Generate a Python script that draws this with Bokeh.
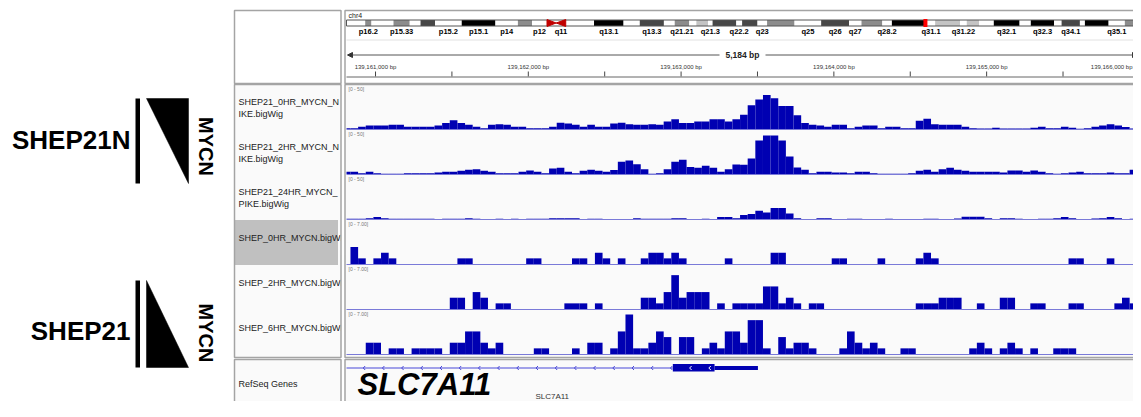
import numpy as np
from bokeh.plotting import figure
from bokeh.models import Range1d, Arrow, NormalHead
from bokeh.core.properties import value
from bokeh.embed import file_html
from bokeh.resources import INLINE

# ============================ data ============================
chrom = "chr4"
view_start = 139160810
view_end = 139165994

# 50-bp bins; bin k covers [bin_origin + 50k, bin_origin + 50(k+1))
bin_origin = 139160836
bin_size = 50
first_bin = -1

shep21_0hr_nspike = [1, 1, 3, 4.5, 4.5, 4.5, 5.4, 5.4, 3, 3,
                     3, 3, 4.5, 7.5, 11, 7.5, 5.4, 3, 1, 5.4,
                     6, 5.4, 3, 3, 1, 1, 1, 3, 8, 7,
                     5.4, 3, 5.4, 3, 3, 7, 8, 6, 5.4, 5.4,
                     6, 5.4, 9.5, 12.5, 7.5, 7.5, 9.5, 9.5, 12.5, 12.5,
                     9.5, 12.5, 18, 30, 37.5, 43, 39, 29, 29, 17.5,
                     7.5, 5.4, 4.5, 3, 5.4, 5.4, 1, 3, 4.5, 4.5,
                     1, 3, 3, 1, 1, 10.4, 13, 6, 5.4, 5.4,
                     5.4, 3, 1, 0.5, 0.5, 1.5, 0.5, 0.5, 0.5, 0.5,
                     1.5, 3, 1, 1, 3, 1.5, 0.3, 1, 3, 4.5,
                     6, 4.5, 2.5, 0.5]
shep21_2hr_nspike = [3, 3, 1, 3, 1, 0.4, 0.4, 0.4, 1, 1,
                     1, 1, 2, 3, 3, 4, 5.4, 6, 4, 3,
                     1, 1, 1, 3, 4.5, 3, 0.8, 7, 8, 3,
                     1, 4, 5.4, 4, 3, 5, 15.4, 17, 12.5, 6,
                     0.4, 1, 6, 15.4, 18, 9, 8, 10.4, 8, 3,
                     6, 12, 11.7, 19.6, 42.5, 48.7, 48.7, 42.5, 22, 8.3,
                     5.4, 1, 3, 3, 2, 2, 1, 3, 3, 1,
                     0.4, 0.2, 0.2, 0.2, 1, 4, 5.4, 3, 6, 8,
                     5.4, 4, 3, 3, 3, 3, 2, 4.5, 4.5, 3,
                     4.5, 3, 1, 0.4, 1, 2, 3, 1, 1, 1,
                     2, 1, 1, 5.4]
shep21_24hr_nspike = [0.3, 0.3, 0.3, 1, 2.5, 1, 0.2, 0.2, 0.2, 0.2,
                      0.2, 0.4, 0.1, 0.4, 0.4, 0.4, 1, 0.4, 0.1, 0.1,
                      0.4, 0.1, 0.4, 0.1, 0.4, 0.4, 0.4, 1, 1, 1,
                      1, 0.1, 0.4, 0.4, 0.1, 0.1, 0.1, 0.1, 1, 0.4,
                      0.4, 0.4, 0.4, 1, 1, 0.1, 0.1, 0.4, 0.1, 2.5,
                      2.5, 1, 5, 6.25, 10.4, 8.3, 14, 14, 7, 1,
                      0.1, 0.1, 1, 1, 0.1, 0.1, 0.4, 0.4, 0.1, 0.1,
                      0.1, 0.4, 0.1, 0.1, 0.1, 0.1, 0.4, 0.4, 0.1, 0.1,
                      0.7, 3, 3, 3, 1, 0.1, 1, 1, 0.4, 0.1,
                      0.1, 0.4, 0.4, 1, 2.5, 1, 0.1, 0.1, 0.7, 1,
                      2.5, 1, 0.1, 0.4]

shep_0hr_bins = [0, 1, 3, 4, 5, 14, 15, 23, 24, 29, 30, 32, 33, 35, 38, 39, 40, 41, 42, 43,
                 49, 55, 56, 63, 64, 69, 74, 75, 76, 94, 95, 99]
shep_0hr_vals = [3, 1, 1, 2, 1, 1, 1, 1, 1, 1, 1, 2, 1, 1, 1, 2, 2, 1, 2, 1,
                 1, 2, 2, 1, 1, 1, 1, 2, 1, 1, 1, 1]
shep_2hr_bins = [13, 14, 16, 17, 19, 20, 28, 29, 30, 32, 38, 39, 40, 41, 42, 43, 44, 45, 46, 48,
                 50, 51, 52, 53, 54, 55, 56, 57, 58, 60, 61, 74, 75, 76, 77, 78, 79, 82, 85, 86,
                 89, 90, 94, 95, 100, 101, 102]
shep_2hr_vals = [2, 2, 3, 2, 1, 1, 1, 1, 1, 1, 2, 2, 1, 3, 6, 2, 3, 3, 3, 1,
                 1, 1, 1, 1, 4, 4, 1, 2, 1, 1, 1, 1, 1, 1, 2, 2, 2, 1, 2, 2,
                 1, 1, 1, 1, 1, 2, 1]
shep_6hr_bins = [2, 3, 5, 6, 8, 9, 10, 11, 13, 14, 15, 16, 17, 18, 19, 24, 25, 29, 31, 32,
                 34, 35, 36, 37, 38, 39, 40, 41, 43, 44, 46, 47, 48, 49, 50, 51, 52, 53, 54, 56,
                 57, 58, 59, 60, 64, 65, 66, 67, 68, 69, 72, 73, 81, 82, 83, 85, 86, 87, 89, 92,
                 93, 94]
shep_6hr_vals = [2, 2, 1, 1, 1, 1, 1, 1, 2, 2, 4, 4, 2, 1, 2, 1, 1, 1, 2, 2,
                 1, 4, 7, 1, 1, 2, 4, 3, 3, 3, 1, 2, 1, 4, 4, 2, 6, 6, 1, 3,
                 1, 2, 2, 1, 1, 4, 2, 1, 2, 1, 1, 1, 1, 2, 1, 1, 2, 1, 1, 1,
                 1, 1]

track_name_lines = [["SHEP21_0HR_MYCN_N", "IKE.bigWig"],
                    ["SHEP21_2HR_MYCN_N", "IKE.bigWig"],
                    ["SHEP21_24HR_MYCN_", "PIKE.bigWig"],
                    ["SHEP_0HR_MYCN.bigWig"],
                    ["SHEP_2HR_MYCN.bigWig"],
                    ["SHEP_6HR_MYCN.bigWig"]]
track_data_max = [50, 50, 50, 7.0, 7.0, 7.0]
track_range_labels = ["[0 - 50]", "[0 - 50]", "[0 - 50]", "[0 - 7.00]", "[0 - 7.00]", "[0 - 7.00]"]
selected_track = 3

ruler_ticks = list(range(139161000, 139166001, 500))

# chr4 cytobands (Mb)
band_names = ["p16.3", "p16.2", "p16.1", "p15.33", "p15.32", "p15.31", "p15.2", "p15.1", "p14", "p13",
              "p12", "p11", "q11", "q12", "q13.1", "q13.2", "q13.3", "q21.1", "q21.21", "q21.22",
              "q21.23", "q21.3", "q22.1", "q22.2", "q22.3", "q23", "q24", "q25", "q26", "q27",
              "q28.1", "q28.2", "q28.3", "q31.1", "q31.21", "q31.22", "q31.23", "q31.3", "q32.1", "q32.2",
              "q32.3", "q33", "q34.1", "q34.2", "q34.3", "q35.1", "q35.2"]
band_start = [0.0, 4.5, 6.0, 11.3, 15.2, 17.8, 21.3, 27.7, 35.8, 41.2,
              44.6, 48.2, 50.4, 52.7, 59.5, 66.6, 70.5, 76.3, 78.9, 82.4,
              84.1, 86.9, 88.0, 93.7, 95.1, 98.8, 101.1, 107.7, 114.1, 120.8,
              123.8, 128.8, 131.1, 139.5, 141.5, 147.5, 149.1, 152.1, 155.6, 161.8,
              164.5, 170.1, 171.9, 176.3, 177.5, 183.2, 187.1]
band_end = band_start[1:] + [191.15]
band_stain = ["gneg", "gpos50", "gneg", "gpos50", "gneg", "gpos75", "gneg", "gpos100", "gneg", "gpos50",
              "gneg", "acen", "acen", "gneg", "gpos100", "gneg", "gpos75", "gneg", "gpos50", "gneg",
              "gpos25", "gneg", "gpos75", "gneg", "gpos75", "gneg", "gpos50", "gneg", "gpos75", "gneg",
              "gpos50", "gneg", "gpos100", "gneg", "gpos25", "gneg", "gpos25", "gneg", "gpos100", "gneg",
              "gpos100", "gneg", "gpos75", "gneg", "gpos100", "gneg", "gpos50"]
band_labels_shown = ["p16.2", "p15.33", "p15.2", "p15.1", "p14", "p12", "q11", "q13.1", "q13.3",
                     "q21.21", "q21.3", "q22.2", "q23", "q25", "q26", "q27", "q28.2", "q31.1",
                     "q31.22", "q32.1", "q32.3", "q34.1", "q35.1"]

gene_track_name = "RefSeq Genes"
gene_name = "SLC7A11"
gene_tx_start = 139085250
gene_tx_end = 139163503
gene_exon1_start = 139162946
gene_cds_end = 139163219

group_labels = ["SHEP21N", "SHEP21"]
side_label = "MYCN"

# ============================ layout (picture pixels) ============================
FIG_W, FIG_H = 1133, 401
NAME_L, NAME_R = 234.0, 340.5
DATA_L, DATA_R = 344.5, 1139.0
HEAD_T, HEAD_B = 10.0, 83.0
TRK_T, TRK_B = 84.0, 357.0
GENE_T, GENE_B = 359.0, 425.0
PX_L, PX_R = 346.0, 1138.0
TRACK_H = 45.0
BASE_OFF = 44.5
SCALE_H = 39.5
IDEO_PPM = 4.16
IDEO_T, IDEO_B = 19.5, 25.5

BAR = "#0000b2"
BORDER = "#a4a4a4"
PANEL = "#fafafa"
F = value("Liberation Sans")

bpp = (view_end - view_start) / (PX_R - PX_L)


def gpos(px):
    return view_start + (px - PX_L) * bpp


p = figure(width=FIG_W, height=FIG_H,
           x_range=Range1d(0, FIG_W), y_range=Range1d(FIG_H, 0),
           output_backend="svg", toolbar_location=None, min_border=0,
           x_axis_location=None, y_axis_location=None)
p.outline_line_color = None
p.background_fill_color = "white"
p.border_fill_color = "white"
p.grid.visible = False
p.extra_x_ranges = {"g": Range1d(gpos(0), gpos(FIG_W)),
                    "chr": Range1d((0 - PX_L) / IDEO_PPM, (FIG_W - PX_L) / IDEO_PPM)}


def txt(x, y, s, size, color="#222222", align="left", baseline="middle", style="normal",
        angle=0.0, xr="default", font=F):
    p.text(x=[x], y=[y], text=[s], text_font=font, text_font_size=f"{size}px",
           text_color=color, text_align=align, text_baseline=baseline,
           text_font_style=style, angle=angle, x_range_name=xr)


def box(l, t, r, b, fill=None, line=None, lw=1.0, xr="default", yr="default"):
    p.quad(left=[l], right=[r], top=[t], bottom=[b], fill_color=fill, line_color=line,
           line_width=lw, x_range_name=xr, y_range_name=yr)


# ---------------- left annotations ----------------
for lab, (ty, bar_t, bar_b, tri, my) in zip(group_labels, [
        (139.0, 98.0, 183.0, "down", 146.0),
        (330.0, 280.0, 367.0, "up", 332.5)]):
    txt(130, ty, lab, 26, color="black", align="right", style="bold")
    box(135, bar_t, 139.5, bar_b, fill="black")
    if tri == "down":
        xs, ys = [146, 188, 188], [bar_t, bar_t, bar_b]
    else:
        xs, ys = [146, 146, 188], [bar_t, bar_b, bar_b]
    p.patch(xs, ys, fill_color="black", line_color="black", line_width=0.5)
    txt(205, my, side_label, 20, color="black", align="center", style="bold", angle=-np.pi / 2)

# ---------------- name panel ----------------
box(NAME_L, HEAD_T, NAME_R, HEAD_B, fill="white")
box(NAME_L, TRK_T, NAME_R, TRK_B, fill=PANEL)
box(NAME_L, GENE_T, NAME_R, GENE_B, fill=PANEL)
sel_top = TRK_T + TRACK_H * selected_track
box(NAME_L, sel_top + 0.5, 337.5, sel_top + TRACK_H + 0.5, fill="#c0c0c0")
for i, lines in enumerate(track_name_lines):
    top = TRK_T + TRACK_H * i
    if len(lines) == 2:
        txt(238, top + 17, lines[0], 9)
        txt(238, top + 29, lines[1], 9)
    else:
        txt(238, top + 18, lines[0], 9)
txt(238, 383, gene_track_name, 9)

# cover overflow between columns, then data panels
box(NAME_R, 0, DATA_L, 430, fill="white")
box(DATA_L, HEAD_T, DATA_R, HEAD_B, fill="white")
box(DATA_L, TRK_T, DATA_R, TRK_B, fill=PANEL)
box(DATA_L, GENE_T, DATA_R, GENE_B, fill=PANEL)

# ---------------- header: ideogram ----------------
txt(348, 14.5, chrom, 7)
ideo_end_mb = (PX_R - PX_L) / IDEO_PPM
stain_col = {"gneg": "white", "gpos25": "#c4c4c4", "gpos50": "#8c8c8c",
             "gpos75": "#474747", "gpos100": "black"}
nb = [i for i, s in enumerate(band_stain) if s != "acen"]
p.quad(left=[band_start[i] for i in nb], right=[min(band_end[i], ideo_end_mb) for i in nb],
       top=IDEO_T, bottom=IDEO_B, fill_color=[stain_col[band_stain[i]] for i in nb],
       line_color=None, x_range_name="chr")
p.quad(left=[0], right=[ideo_end_mb], top=IDEO_T, bottom=IDEO_B, fill_color=None,
       line_color="#555555", line_width=1, x_range_name="chr")
for i, s in enumerate(band_stain):
    if s == "acen":
        mid = (IDEO_T + IDEO_B) / 2
        if band_names[i].startswith("p"):
            xs = [band_start[i], band_start[i], band_end[i]]
        else:
            xs = [band_end[i], band_end[i], band_start[i]]
        p.patch(xs, [IDEO_T - 0.5, IDEO_B + 0.5, mid], fill_color="#c00000", line_color="#c00000",
                x_range_name="chr")
for nm in band_labels_shown:
    i = band_names.index(nm)
    txt((band_start[i] + band_end[i]) / 2, 30.5, nm, 7.5, color="black", align="center",
        style="bold", xr="chr")
loc_mb = (view_start + view_end) / 2 / 1e6
box(loc_mb - 2 / IDEO_PPM, IDEO_T - 1, loc_mb + 2 / IDEO_PPM, IDEO_B + 1, fill="red", xr="chr")

p.segment(x0=[PX_L], x1=[PX_R], y0=[39.5], y1=[39.5], line_color="#e2e2e2", line_width=1)

# ---------------- header: ruler ----------------
span_txt = f"{view_end - view_start:,} bp"
mid_px = (PX_L + PX_R) / 2
txt(mid_px, 54.5, span_txt, 8.5, color="#222222", align="center", style="bold")
p.add_layout(Arrow(end=NormalHead(size=5, fill_color="#333333", line_color="#333333"),
                   x_start=mid_px - 23, y_start=54.5, x_end=PX_L + 1, y_end=54.5,
                   line_color="#555555", line_width=1))
p.add_layout(Arrow(end=NormalHead(size=5, fill_color="#333333", line_color="#333333"),
                   x_start=mid_px + 23, y_start=54.5, x_end=PX_R - 1, y_end=54.5,
                   line_color="#555555", line_width=1))
p.segment(x0=ruler_ticks, x1=ruler_ticks, y0=71, y1=76, line_color="#444444", line_width=1,
          x_range_name="g")
lab_ticks = [t for t in ruler_ticks if t % 1000 == 0]
in_view = [t for t in lab_ticks if t <= view_end]
p.text(x=in_view, y=66.5, text=[f"{t:,} bp" for t in in_view], text_font=F,
       text_font_size="6px", text_color="#333333", text_align="center", text_baseline="middle",
       x_range_name="g")
for t in lab_ticks:
    if t > view_end:
        # label of the tick that sits on the right edge: kept inside the page
        txt(gpos(FIG_W - 1), 66.5, f"{t:,} bp", 6, color="#333333", align="right", xr="g")
p.segment(x0=[PX_L], x1=[PX_R], y0=[76.5], y1=[76.5], line_color="#666666", line_width=1)

# ---------------- coverage tracks ----------------
dense = [shep21_0hr_nspike, shep21_2hr_nspike, shep21_24hr_nspike]
sparse = [(shep_0hr_bins, shep_0hr_vals), (shep_2hr_bins, shep_2hr_vals),
          (shep_6hr_bins, shep_6hr_vals)]
series = []
for vals in dense:
    series.append((list(range(first_bin, first_bin + len(vals))), vals))
series.extend(sparse)

for i, (bins, vals) in enumerate(series):
    top = TRK_T + TRACK_H * i
    base = top + BASE_OFF
    s = SCALE_H / track_data_max[i]
    rn = f"t{i}"
    p.extra_y_ranges[rn] = Range1d((base - FIG_H) / s, base / s)
    left = bin_origin + bin_size * np.asarray(bins, dtype=float)
    right = left + bin_size
    left = np.maximum(left, view_start)
    right = np.minimum(right, view_end)
    v = np.minimum(np.asarray(vals, dtype=float), track_data_max[i])
    p.quad(left=left, right=right, bottom=0, top=v, fill_color=BAR, line_color=None,
           x_range_name="g", y_range_name=rn)
    p.segment(x0=[PX_L], x1=[PX_R], y0=[base + 0.5], y1=[base + 0.5], line_color="#7a7ad8",
              line_width=1)
    txt(348, top + 4, track_range_labels[i], 5, color="#777777")

# ---------------- gene track ----------------
gy = 367.5
vis_l = max(gene_tx_start, view_start)
vis_r = min(gene_tx_end, view_end)
p.segment(x0=[vis_l], x1=[gene_exon1_start], y0=[gy], y1=[gy], line_color="#4848d8",
          line_width=1, x_range_name="g")
box(gene_exon1_start, 363.5, gene_cds_end, 371.0, fill=BAR, xr="g")
box(gene_cds_end, 365.5, gene_tx_end, 369.5, fill=BAR, xr="g")
chev_x = []
chev_y = []
chev_c = []
px = PX_L + 16.7
while gpos(px) < gene_cds_end - 3 * bpp:
    g = gpos(px)
    chev_x.append([g + 2 * bpp, g, g + 2 * bpp])
    chev_y.append([gy - 2, gy, gy + 2])
    chev_c.append("white" if g > gene_exon1_start else "#4848d8")
    px += 19.2
p.multi_line(xs=chev_x, ys=chev_y, line_color=chev_c, line_width=1, x_range_name="g")
txt((vis_l + vis_r) / 2, 395.5, gene_name, 8, color="#333333", align="center", xr="g")
txt(357, 384.0, gene_name, 31, color="black", align="left", style="bold italic")

# ---------------- panel borders ----------------
for (l, r) in [(NAME_L, NAME_R), (DATA_L, DATA_R)]:
    for (t, b) in [(HEAD_T, HEAD_B), (TRK_T, TRK_B), (GENE_T, GENE_B)]:
        box(l, t, r, b, fill=None, line=BORDER, lw=1.5)

open("out.html", "w").write(file_html(p, INLINE))
